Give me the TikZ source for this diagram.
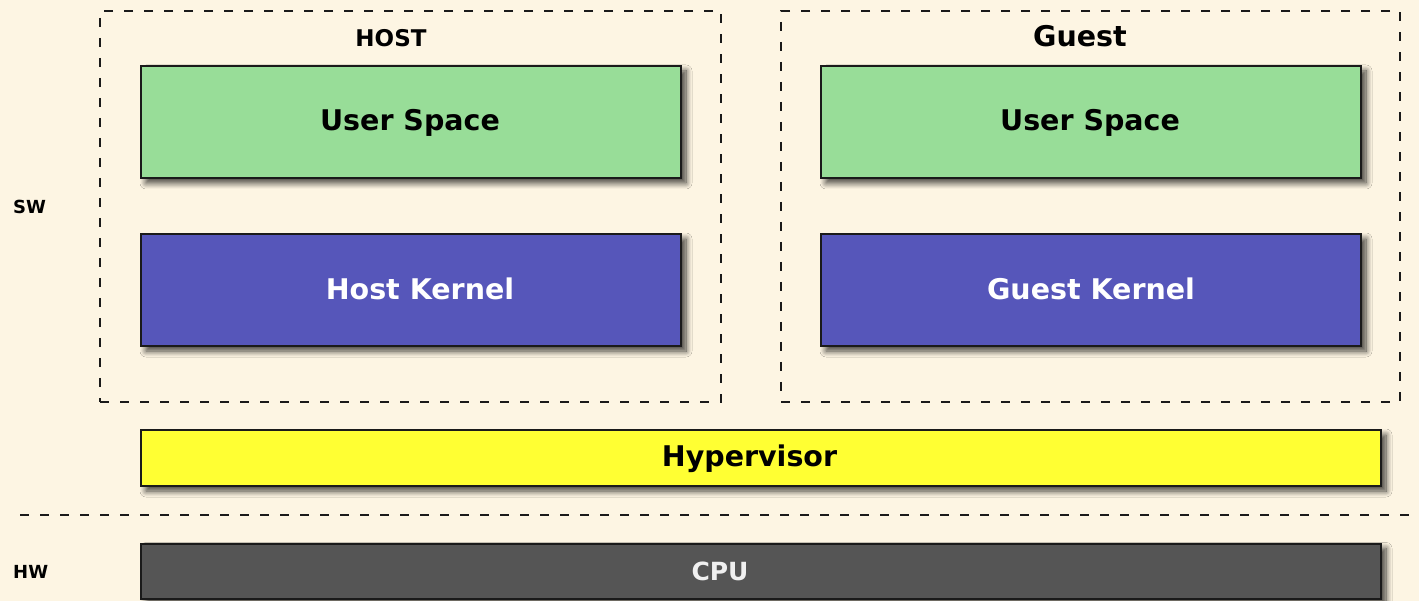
\documentclass[tikz,border=0pt]{standalone}
\usepackage{fontspec}
\setmainfont{DejaVu Sans}
\usetikzlibrary{shadows.blur}
\definecolor{bgc}{HTML}{FDF5E3}
\definecolor{usergreen}{HTML}{98DD98}
\definecolor{kernblue}{HTML}{5656BA}
\definecolor{hypyellow}{HTML}{FFFF33}
\definecolor{cpugray}{HTML}{555555}
\definecolor{linec}{HTML}{1A1A1A}
\tikzset{
  layerbox/.style={draw=linec, line width=2pt, inner sep=0pt,
    blur shadow={shadow xshift=5pt, shadow yshift=-5pt, shadow blur radius=6pt, shadow blur steps=10, shadow opacity=75}},
  layertext/.style={font=\bfseries\fontsize{28.5}{34}\selectfont, inner sep=0pt, anchor=base},
  groupbox/.style={draw=linec, line width=2pt, dash pattern=on 9pt off 11pt, inner sep=0pt},
  sidelabel/.style={font=\bfseries\fontsize{18}{22}\selectfont, anchor=base west, inner sep=0pt},
  sepline/.style={draw=linec, line width=2pt, dash pattern=on 9pt off 11pt}
}
\begin{document}
\begin{tikzpicture}[x=1pt,y=-1pt]
\fill[bgc] (0,0) rectangle (1419,601);
\useasboundingbox (0,0) rectangle (1419,601);
% group boxes
\node[groupbox, minimum width=621pt, minimum height=391pt] (hostgrp) at (410.5,206.5) {};
\node[groupbox, minimum width=619pt, minimum height=391pt] (guestgrp) at (1090.5,206.5) {};
\node[font=\bfseries\fontsize{23}{28}\selectfont, inner sep=0pt, anchor=base] (hostlbl) at (391,47) {HOST};
\node[font=\bfseries\fontsize{28.5}{34}\selectfont, inner sep=0pt, anchor=base] (guestlbl) at (1080,47) {Guest};
% layers
\node[layerbox, fill=usergreen, minimum width=540pt, minimum height=112pt] (hus) at (411,122) {};
\node[layerbox, fill=kernblue, minimum width=540pt, minimum height=112pt] (hk) at (411,290) {};
\node[layerbox, fill=usergreen, minimum width=540pt, minimum height=112pt] (gus) at (1091,122) {};
\node[layerbox, fill=kernblue, minimum width=540pt, minimum height=112pt] (gk) at (1091,290) {};
\node[layerbox, fill=hypyellow, minimum width=1240pt, minimum height=56pt] (hyp) at (761,458) {};
\node[layerbox, fill=cpugray, minimum width=1240pt, minimum height=55pt] (cpu) at (761,571) {};
% layer texts
\node[layertext] (husT) at (410,131) {User Space};
\node[layertext, text=white] (hkT) at (420,300) {Host Kernel};
\node[layertext] (gusT) at (1090,131) {User Space};
\node[layertext, text=white] (gkT) at (1091,300) {Guest Kernel};
\node[layertext] (hypT) at (749.5,466) {Hypervisor};
\node[layertext, text=white!94!black, font=\bfseries\fontsize{25}{30}\selectfont] (cpuT) at (720,580) {CPU};
% separator
\coordinate (sepL) at (20,515);
\coordinate (sepR) at (1412,515);
\draw[sepline] (sepL) -- (sepR);
% side labels
\node[sidelabel] (sw) at (13,214) {SW};
\node[sidelabel] (hw) at (13,578) {HW};
\end{tikzpicture}
\end{document}
